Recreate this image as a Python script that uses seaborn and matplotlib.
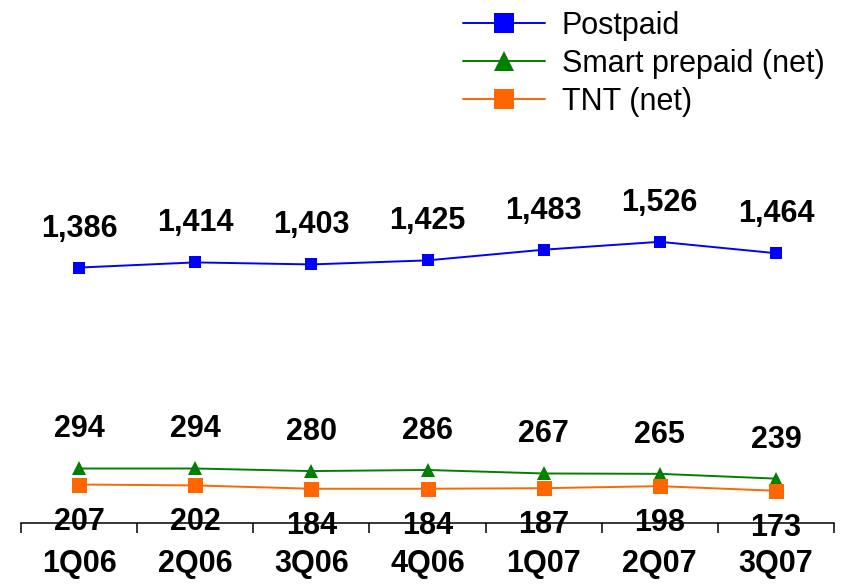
import matplotlib
matplotlib.use("Agg")
import matplotlib.pyplot as plt
from matplotlib.lines import Line2D
from matplotlib.ticker import FixedLocator
import numpy as np
import pandas as pd
import seaborn as sns

quarters = ["1Q06", "2Q06", "3Q06", "4Q06", "1Q07", "2Q07", "3Q07"]
postpaid = [1386, 1414, 1403, 1425, 1483, 1526, 1464]
smart_prepaid = [294, 294, 280, 286, 267, 265, 239]
tnt = [207, 202, 184, 184, 187, 198, 173]

names = ["Postpaid", "Smart prepaid (net)", "TNT (net)"]
values = {"Postpaid": postpaid, "Smart prepaid (net)": smart_prepaid, "TNT (net)": tnt}
colors = {"Postpaid": "#0000FF", "Smart prepaid (net)": "#008000", "TNT (net)": "#FF6600"}
markers = {"Postpaid": "s", "Smart prepaid (net)": "^", "TNT (net)": "s"}
msize = {"Postpaid": 8.6, "Smart prepaid (net)": 9.6, "TNT (net)": 10.8}
# label baseline offset from marker, pixels
label_off = {"Postpaid": 31, "Smart prepaid (net)": 31, "TNT (net)": -45}

df = pd.concat([
    pd.DataFrame({"quarter": quarters, "value": values[n], "series": n}) for n in names
])

sns.set_style("white")
plt.rcParams["font.family"] = ["Liberation Sans", "DejaVu Sans"]
plt.rcParams["text.color"] = "black"
plt.rcParams["xtick.color"] = "black"
plt.rcParams["xtick.labelcolor"] = "black"

fig = plt.figure(figsize=(8.51, 5.84), dpi=100)
ax = fig.add_axes([21 / 851, 1 - 522.6 / 584, 813 / 851, 522.6 / 584])

for n in names:
    sub = df[df["series"] == n]
    sns.lineplot(data=sub, x="quarter", y="value", color=colors[n], marker=markers[n],
                 markersize=msize[n], markeredgewidth=0, linewidth=1.4, sort=False,
                 ax=ax, legend=False)
    for i, v in enumerate(sub["value"]):
        ax.annotate(f"{v:,}", (i, v), xytext=(0, label_off[n]), textcoords="offset pixels",
                    ha="center", va="baseline", fontsize=22, fontweight="bold", color="black")

ax.set_xlim(-0.5, len(quarters) - 0.5)
ax.set_ylim(0, 2840)
ax.set_xlabel("")
ax.set_ylabel("")
ax.set_yticks([])
for s in ["top", "left", "right"]:
    ax.spines[s].set_visible(False)
ax.spines["bottom"].set_color("black")
ax.spines["bottom"].set_linewidth(1.1)

ax.xaxis.set_minor_locator(FixedLocator(np.arange(-0.5, len(quarters), 1.0)))
ax.tick_params(axis="x", which="major", length=0, pad=19, labelsize=22, labelcolor="black")
ax.tick_params(axis="x", which="minor", length=7.5, width=1.1, color="black", direction="out",
               bottom=True)
for t in ax.get_xticklabels():
    t.set_fontweight("bold")

handles = [Line2D([], [], color=colors[n], marker=markers[n], markersize=15,
                  markeredgewidth=0, linewidth=1.4) for n in names]
fig.legend(handles, names, loc="upper left", bbox_to_anchor=(463 / 851, 1 - 11 / 584),
           frameon=False, fontsize=22, handlelength=2.68, handletextpad=0.55,
           labelspacing=0.26, borderpad=0, borderaxespad=0)

fig.savefig("out.png", dpi=100)
